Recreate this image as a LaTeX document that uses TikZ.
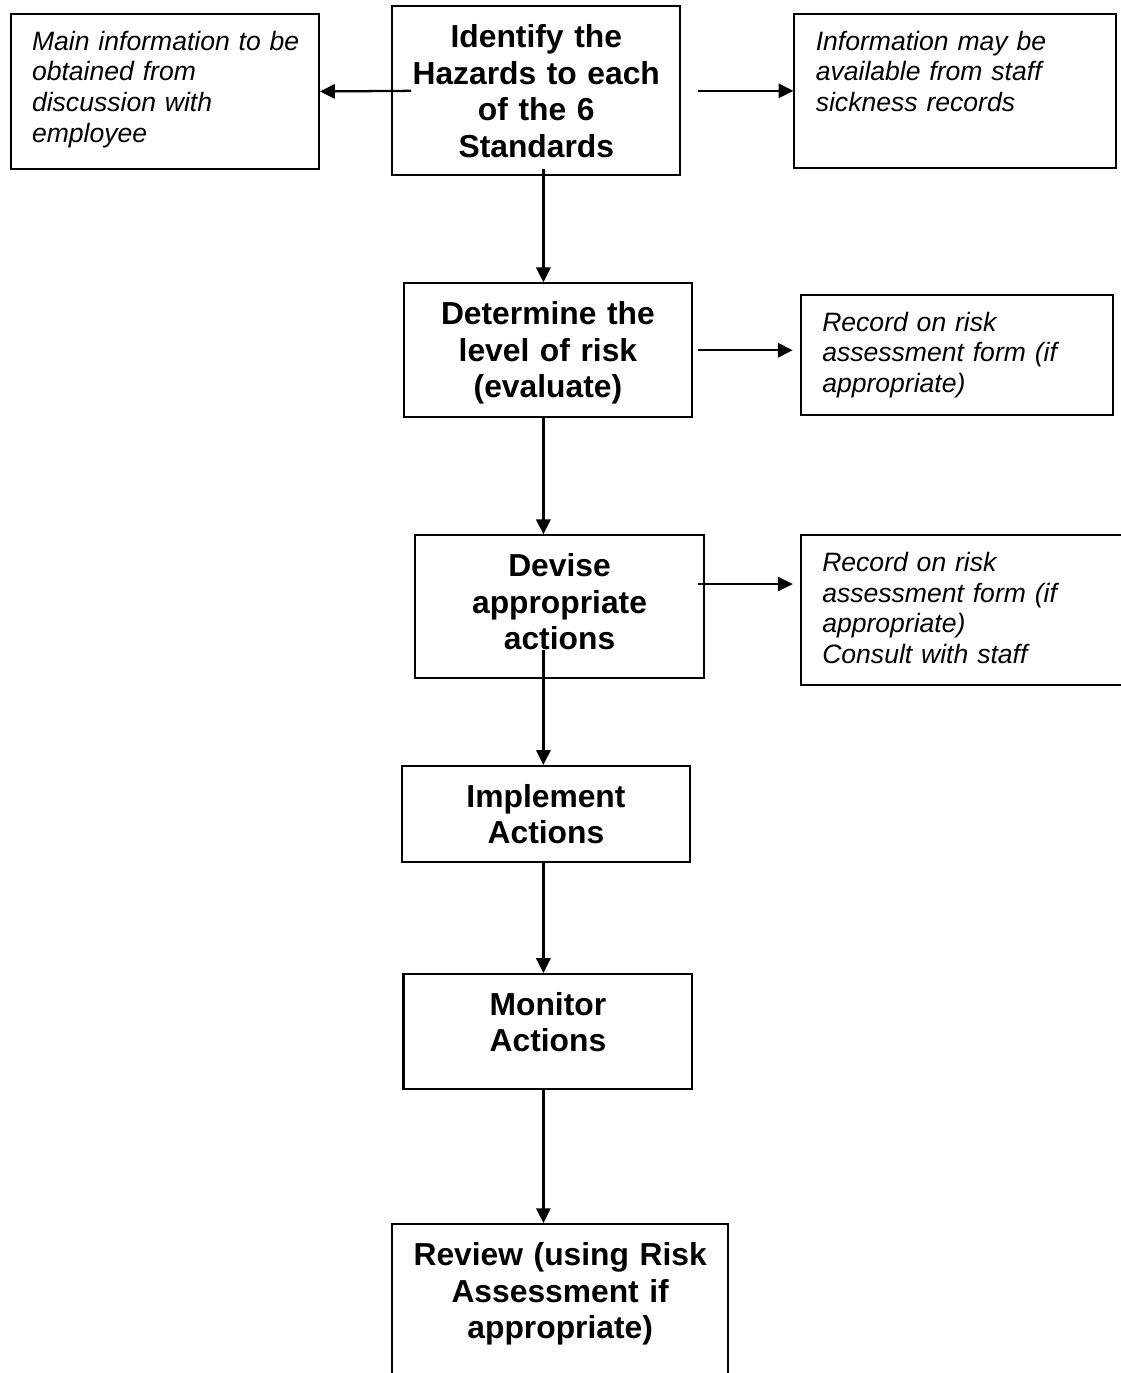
\documentclass[tikz,border=0pt]{standalone}
\usepackage{fontspec}
\setmainfont{Liberation Sans}
\usetikzlibrary{arrows.meta,calc}

\begin{document}
\begin{tikzpicture}[
        stepbox/.style={draw,line width=0.9pt,anchor=north,align=center,inner sep=0pt,
          text height=0.64cm,font=\fontsize{14}{16.1}\selectfont\bfseries},
        notebox/.style={draw,line width=0.9pt,anchor=north west,align=left,inner xsep=0.33cm,inner ysep=0pt,
          text height=0.56cm,font=\fontsize{11.7}{13.5}\selectfont\itshape},
        arr/.style={-{Triangle[length=2.3mm,width=2.2mm]},line width=1pt}]
        \useasboundingbox (0,0) rectangle (17.34,-21.25);
        \coordinate (spine) at (8.41,0);
        \node[stepbox,text width=4.46cm,text depth=1.98cm] (ident) at (8.30,-0.08) {Identify the\\Hazards to each\\of the 6\\Standards};
        \node[stepbox,text width=4.46cm,text depth=1.43cm] (level) at (8.48,-4.37) {Determine the\\level of risk\\(evaluate)};
        \node[stepbox,text width=4.47cm,text depth=1.57cm] (devise) at (8.66,-8.27) {Devise\\appropriate\\actions};
        \node[stepbox,text width=4.46cm,text depth=0.85cm] (implement) at (8.45,-11.84) {Implement\\Actions};
        \node[stepbox,text width=4.47cm,text depth=1.14cm] (monitor) at (8.48,-15.06) {Monitor\\Actions};
        \node[stepbox,text width=5.20cm,text depth=2.10cm] (review) at (8.67,-18.93) {Review (using Risk\\Assessment if\\appropriate)};
        \node[notebox,text width=4.11cm,text depth=1.84cm] (discuss) at (0.15,-0.20) {\mbox{Main information to be}\\obtained from\\discussion with\\employee};
        \node[notebox,text width=4.32cm,text depth=1.82cm] (records) at (12.28,-0.20) {Information may be\\available from staff\\sickness records};
        \node[notebox,text width=4.17cm,text depth=1.30cm] (formA) at (12.38,-4.55) {Record on risk\\assessment form (if\\appropriate)};
        \node[notebox,text width=4.60cm,text depth=1.76cm] (formB) at (12.38,-8.27) {Record on risk\\assessment form (if\\appropriate)\\Consult with staff};
        \draw[arr] ($(ident.west)+(0.31,0)$) -- (discuss.east);
        \draw[arr] ($(ident.east)+(0.26,0)$) -- (ident.east -| records.west);
        \draw[arr] ($(ident.south -| spine)+(0,0.11)$) -- (level.north -| spine);
        \draw[arr] ($(level.east)+(0.08,0)$) -- ($(level.east -| formA.west)+(-0.11,0)$);
        \draw[arr] (level.south -| spine) -- (devise.north -| spine);
        \coordinate (dvx) at ($(devise.north east)+(-0.11,-0.77)$);
        \draw[arr] (dvx) -- ($(dvx -| formB.west)+(-0.11,0)$);
        \draw[arr] ($(devise.south -| spine)+(0,0.45)$) -- (implement.north -| spine);
        \draw[arr] (implement.south -| spine) -- (monitor.north -| spine);
        \draw[arr] (monitor.south -| spine) -- (review.north -| spine);
\end{tikzpicture}
\end{document}
